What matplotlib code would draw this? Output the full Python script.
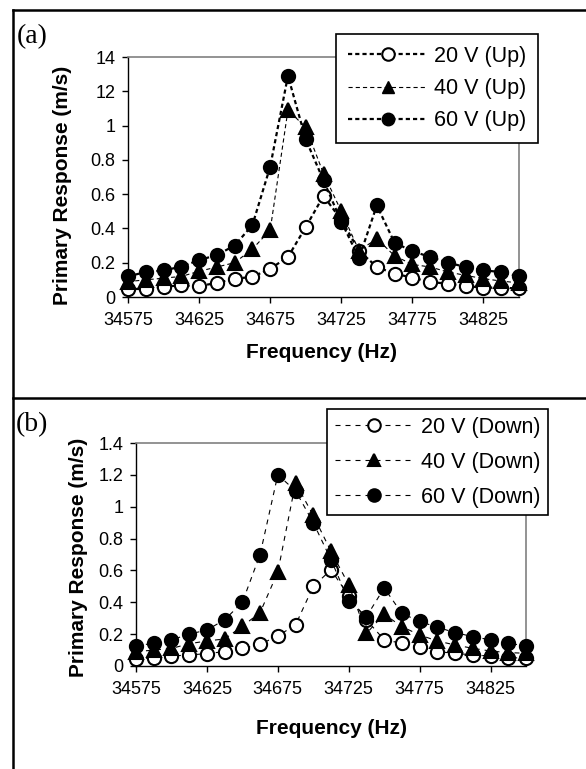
import matplotlib
matplotlib.use("Agg")
import matplotlib.pyplot as plt
from matplotlib.lines import Line2D

plt.rcParams['font.family'] = ['Liberation Sans', 'DejaVu Sans']
plt.rcParams['lines.scale_dashes'] = False

# frequency sweep (Hz)
freq = [34575, 34587.5, 34600, 34612.5, 34625, 34637.5, 34650, 34662.5,
        34675, 34687.5, 34700, 34712.5, 34725, 34737.5, 34750, 34762.5,
        34775, 34787.5, 34800, 34812.5, 34825, 34837.5, 34850]
freq_ticks = [34575, 34625, 34675, 34725, 34775, 34825]

# primary response (m/s), upward sweep
up_20 = [0.049, 0.045, 0.06, 0.068, 0.064, 0.082, 0.107, 0.117, 0.165, 0.233, 0.408, 0.59,
         0.45, 0.27, 0.175, 0.136, 0.113, 0.087, 0.078, 0.064, 0.054, 0.054, 0.05]
up_40 = [0.09, 0.10, 0.11, 0.12, 0.15, 0.175, 0.2, 0.28, 0.39, 1.09, 0.99, 0.72,
         0.5, 0.27, 0.34, 0.24, 0.19, 0.175, 0.146, 0.126, 0.107, 0.093, 0.082]
up_60 = [0.12, 0.146, 0.155, 0.177, 0.215, 0.245, 0.30, 0.42, 0.76, 1.29, 0.92, 0.68,
         0.44, 0.227, 0.534, 0.316, 0.268, 0.233, 0.2, 0.175, 0.155, 0.146, 0.12]

# primary response (m/s), downward sweep
down_20 = [0.044, 0.052, 0.063, 0.069, 0.078, 0.09, 0.111, 0.136, 0.189, 0.258, 0.5, 0.604,
           0.44, 0.29, 0.164, 0.143, 0.117, 0.09, 0.08, 0.069, 0.063, 0.052, 0.05]
down_40 = [0.09, 0.10, 0.11, 0.14, 0.157, 0.17, 0.25, 0.335, 0.59, 1.15, 0.945, 0.72,
           0.51, 0.205, 0.325, 0.247, 0.195, 0.157, 0.132, 0.111, 0.094, 0.084, 0.08]
down_60 = [0.126, 0.143, 0.164, 0.2, 0.226, 0.29, 0.40, 0.70, 1.20, 1.10, 0.90, 0.667,
           0.41, 0.31, 0.49, 0.33, 0.28, 0.243, 0.21, 0.184, 0.164, 0.143, 0.126]

yticks = [0, 0.2, 0.4, 0.6, 0.8, 1, 1.2, 1.4]
ylabels_up = ['0', '0.2', '0.4', '0.6', '0.8', '1', '12', '14']
ylabels_down = ['0', '0.2', '0.4', '0.6', '0.8', '1', '1.2', '1.4']

W, H = 586, 769
fig = plt.figure(figsize=(W / 100, H / 100), dpi=100)


def px_axes(l, t, r, b):
    return fig.add_axes([l / W, 1 - b / H, (r - l) / W, (b - t) / H])


def style_axes(ax, ylabels):
    ax.set_xlim(freq[0], freq[-1])
    ax.set_ylim(0, 1.4)
    ax.set_xticks(freq_ticks)
    ax.set_xticklabels([str(f) for f in freq_ticks])
    ax.set_yticks(yticks)
    ax.set_yticklabels(ylabels)
    for s in ['top', 'right']:
        ax.spines[s].set_color('#808080')
        ax.spines[s].set_linewidth(1.2)
    for s in ['left', 'bottom']:
        ax.spines[s].set_color('black')
        ax.spines[s].set_linewidth(1.0)
    ax.tick_params(direction='out', length=4, width=1, labelsize=13, color='black')
    ax.tick_params(axis='x', pad=7)
    ax.tick_params(axis='y', pad=5)


def draw_series(ax, ys, marker, face, lw, dashes, z):
    ax.plot(freq, ys, color='black', lw=lw, dashes=dashes, marker=marker,
            markersize=9.5, markerfacecolor=face, markeredgecolor='black',
            markeredgewidth=1.5, clip_on=False, zorder=z)


# (a) upward sweep
ax1 = px_axes(128, 57, 519, 297)
style_axes(ax1, ylabels_up)
draw_series(ax1, up_20, 'o', 'white', 1.6, (3, 2.2), 3)
draw_series(ax1, up_40, '^', 'black', 0.8, (3, 2.2), 4)
draw_series(ax1, up_60, 'o', 'black', 1.6, (3, 2.2), 5)
h = [Line2D([], [], color='black', lw=1.6, dashes=(3, 2.2), marker='o', markersize=9,
            markerfacecolor='white', markeredgewidth=1.5),
     Line2D([], [], color='black', lw=0.8, dashes=(3, 2.2), marker='^', markersize=9,
            markerfacecolor='black'),
     Line2D([], [], color='black', lw=1.6, dashes=(3, 2.2), marker='o', markersize=9,
            markerfacecolor='black')]
leg1 = ax1.legend(h, ['20 V (Up)', '40 V (Up)', '60 V (Up)'], loc='upper left',
                  bbox_to_anchor=(336 / W, 1 - 34 / H), bbox_transform=fig.transFigure,
                  borderaxespad=0, fontsize=15.5, fancybox=False, framealpha=1,
                  edgecolor='black', handlelength=3.7, handletextpad=0.3,
                  borderpad=0.55, labelspacing=0.52)
leg1.get_frame().set_linewidth(1.2)
leg1.set_zorder(10)
fig.text(62 / W, 1 - 185 / H, 'Primary Response (m/s)', rotation=90, ha='center',
         va='center', fontsize=15, fontweight='bold')
fig.text(322 / W, 1 - 353 / H, 'Frequency (Hz)', ha='center', va='center',
         fontsize=15, fontweight='bold')
fig.text(17 / W, 1 - 37 / H, '(a)', ha='left', va='center', fontsize=20,
         family='Liberation Serif')

# (b) downward sweep
ax2 = px_axes(136, 443, 526, 666)
style_axes(ax2, ylabels_down)
draw_series(ax2, down_20, 'o', 'white', 0.8, (3.6, 3.6), 3)
draw_series(ax2, down_40, '^', 'black', 0.8, (3.6, 3.6), 4)
draw_series(ax2, down_60, 'o', 'black', 0.8, (3.6, 3.6), 5)
h = [Line2D([], [], color='black', lw=0.8, dashes=(3.6, 3.6), marker=m, markersize=9,
            markerfacecolor=f, markeredgewidth=1.5)
     for m, f in [('o', 'white'), ('^', 'black'), ('o', 'black')]]
leg2 = ax2.legend(h, ['20 V (Down)', '40 V (Down)', '60 V (Down)'], loc='upper left',
                  bbox_to_anchor=(327 / W, 1 - 409 / H), bbox_transform=fig.transFigure,
                  borderaxespad=0, fontsize=15.5, fancybox=False, framealpha=1,
                  edgecolor='black', handlelength=3.7, handletextpad=0.3,
                  borderpad=0.35, labelspacing=0.66)
leg2.get_frame().set_linewidth(1.2)
leg2.set_zorder(10)
fig.text(78 / W, 1 - 557 / H, 'Primary Response (m/s)', rotation=90, ha='center',
         va='center', fontsize=15, fontweight='bold')
fig.text(331 / W, 1 - 729 / H, 'Frequency (Hz)', ha='center', va='center',
         fontsize=15, fontweight='bold')
fig.text(16 / W, 1 - 425 / H, '(b)', ha='left', va='center', fontsize=20,
         family='Liberation Serif')

# outer panel frames
for xs, ys in [([13, W], [10, 10]), ([13, 13], [10, H]), ([13, W], [398, 398])]:
    fig.add_artist(Line2D([x / W for x in xs], [1 - y / H for y in ys],
                          color='black', lw=1.8, transform=fig.transFigure))

fig.savefig('out.png', dpi=100)
